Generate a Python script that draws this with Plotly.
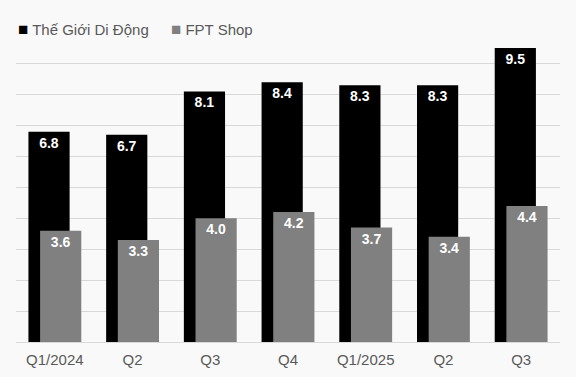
import plotly.graph_objects as go

categories = ["Q1/2024", "Q2", "Q3", "Q4", "Q1/2025", "Q2 ", "Q3 "]
tick_labels = ["Q1/2024", "Q2", "Q3", "Q4", "Q1/2025", "Q2", "Q3"]
tgdd = [6.8, 6.7, 8.1, 8.4, 8.3, 8.3, 9.5]
fpt = [3.6, 3.3, 4.0, 4.2, 3.7, 3.4, 4.4]
series_names = ["Thế Giới Di Động", "FPT Shop"]
series_colors = ["#000000", "#808080"]

FONT = "Arial, 'Liberation Sans', sans-serif"
BG = "#f9f9f9"

fig = go.Figure()
for name, vals, color, off in [(series_names[0], tgdd, series_colors[0], -0.34),
                               (series_names[1], fpt, series_colors[1], -0.19)]:
    fig.add_trace(go.Bar(
        name=name, x=categories, y=vals,
        marker=dict(color=color, line=dict(width=0)),
        width=0.53, offset=off,
        texttemplate="%{y:.1f}", textposition="inside", insidetextanchor="end",
        textangle=0, textfont=dict(family=FONT, size=14, color="white", weight="bold"),
        hoverinfo="skip", showlegend=False,
    ))

# legend drawn as text annotations
PW = 576 - 32
PH = 377 - 45 - 35
legend_x = [16, 169]
for name, color, px in zip(series_names, series_colors, legend_x):
    fig.add_annotation(
        xref="paper", yref="paper", x=(px - 16) / PW, y=(342 - 29) / PH,
        xanchor="left", yanchor="middle", showarrow=False,
        text=f"<span style='color:{color};font-size:17px'>■</span> {name}",
        font=dict(family=FONT, size=15, color="#595959"),
    )

fig.update_layout(
    width=576, height=377,
    margin=dict(l=16, r=16, t=45, b=35, autoexpand=False),
    paper_bgcolor=BG, plot_bgcolor=BG,
    barmode="overlay",
    font=dict(family=FONT, color="#595959", size=15),
    showlegend=False,
    xaxis=dict(tickmode="array", tickvals=categories, ticktext=tick_labels,
               showgrid=False, showline=False, ticks="", automargin=False,
               ticklabelstandoff=7,
               tickfont=dict(size=15, color="#595959")),
    yaxis=dict(range=[0, 9.6], dtick=1, showticklabels=False, automargin=False,
               gridcolor="#d9d9d9", gridwidth=1,
               zeroline=True, zerolinecolor="#d9d9d9", zerolinewidth=1),
)

fig.write_html(
    "out.html",
    config={"displayModeBar": False, "staticPlot": True},
    post_script=f"document.body.style.margin='0';document.body.style.background='{BG}';",
)
